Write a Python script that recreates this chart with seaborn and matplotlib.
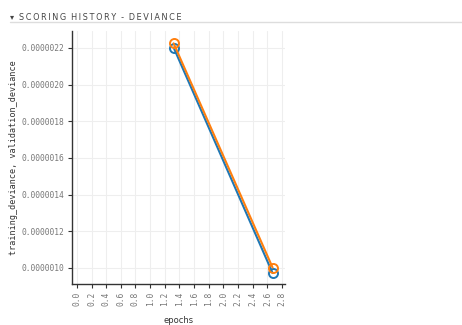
import matplotlib
matplotlib.use("Agg")
import matplotlib.pyplot as plt
import numpy as np
import pandas as pd
import seaborn as sns

# Scoring history values
epochs = [1.32, 2.67]
training_deviance = [2.202e-6, 0.972e-6]
validation_deviance = [2.225e-6, 1.002e-6]
x_ticks = [0.0, 0.2, 0.4, 0.6, 0.8, 1.0, 1.2, 1.4, 1.6, 1.8, 2.0, 2.2, 2.4, 2.6, 2.8]
y_ticks = [1.0e-6, 1.2e-6, 1.4e-6, 1.6e-6, 1.8e-6, 2.0e-6, 2.2e-6]
title = "\u25be SCORING HISTORY - DEVIANCE"

sns.set_style("white")
plt.rcParams["font.family"] = ["DejaVu Sans"]

df = pd.DataFrame({
    "epochs": epochs * 2,
    "value": training_deviance + validation_deviance,
    "series": ["training_deviance"] * len(epochs) + ["validation_deviance"] * len(epochs),
})

fig = plt.figure(figsize=(4.62, 3.25), dpi=100)
ax = fig.add_axes([0.156, 0.126, 0.461, 0.779])

palette = {"training_deviance": "#1f77b4", "validation_deviance": "#ff7f0e"}
sns.lineplot(data=df, x="epochs", y="value", hue="series", palette=palette,
             marker="o", markersize=6.5, markerfacecolor="none",
             markeredgewidth=1.4, linewidth=1.5, legend=False, ax=ax)
# open circles take the series colour on their edge
for line in ax.get_lines():
    line.set_markeredgecolor(line.get_color())

ax.set_xlim(-0.065, 2.84)
ax.set_ylim(0.912e-6, 2.293e-6)
ax.set_xticks(x_ticks)
ax.set_xticklabels([f"{v:.1f}" for v in x_ticks], rotation=90,
                   family="DejaVu Sans Mono", fontsize=5.7, color="#777777")
ax.set_yticks(y_ticks)
ax.set_yticklabels([f"{v:.7f}" for v in y_ticks],
                   family="DejaVu Sans Mono", fontsize=5.7, color="#777777")

ax.grid(True, color="#eeeeee", linewidth=0.8)
for side in ("top", "right"):
    ax.spines[side].set_visible(False)
for side in ("left", "bottom"):
    ax.spines[side].set_color("#333333")
    ax.spines[side].set_linewidth(1.0)
ax.tick_params(axis="both", which="major", length=3, width=0.8,
               color="#333333", pad=2.5, direction="out", left=True, bottom=True)

ax.set_xlabel("epochs", fontsize=6, color="#333333", labelpad=7)
ax.set_ylabel("training_deviance, validation_deviance",
              family="DejaVu Sans Mono", fontsize=6.1, color="#333333")
ax.yaxis.set_label_coords(-0.255, 0.5)

# Section header, letter-spaced, with a rule underneath
spaced = "\u2009".join(title.replace(" ", "\u2009"))
fig.text(0.021, 0.94, spaced, fontsize=5.9, color="#444444",
         va="baseline", ha="left")
fig.add_artist(plt.Line2D([0.022, 1.0], [0.932, 0.932], color="#dddddd",
                          linewidth=1.0, transform=fig.transFigure))

fig.savefig("out.png", dpi=100)
